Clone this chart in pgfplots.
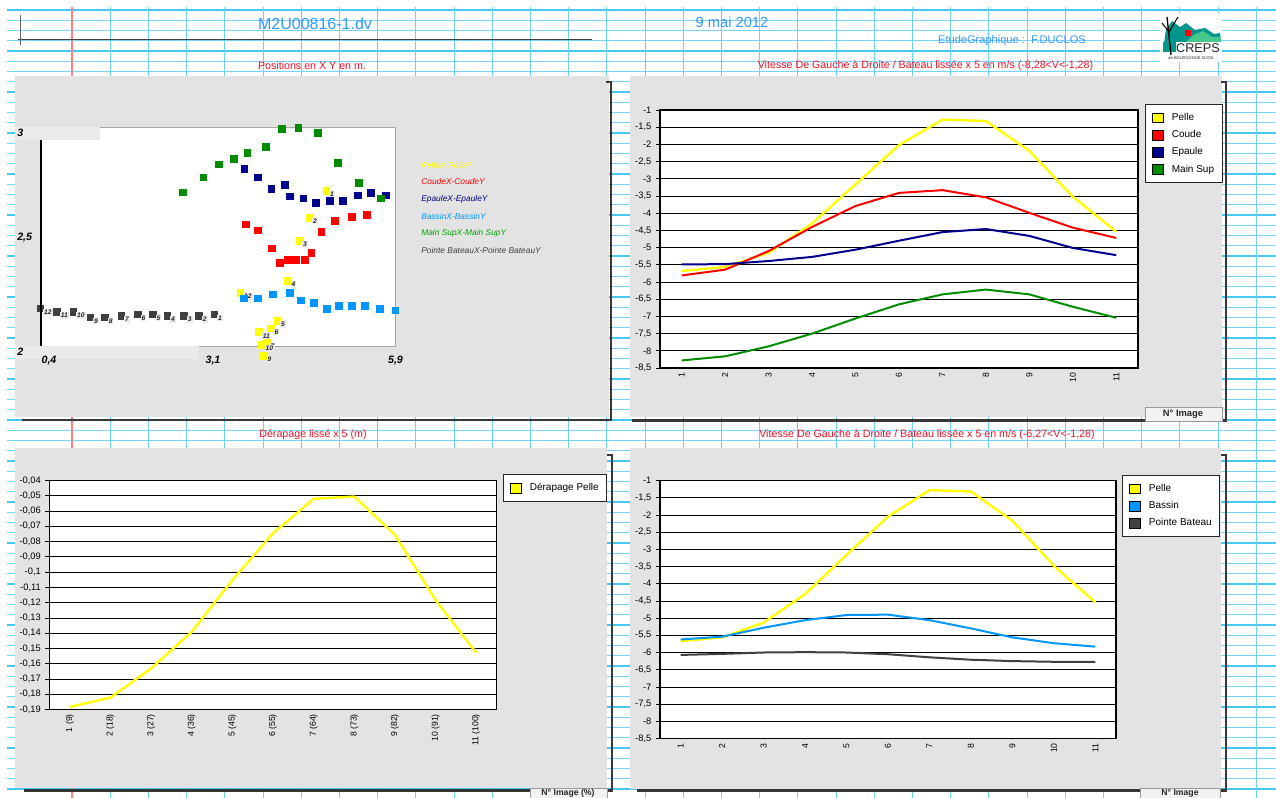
\documentclass[border=0pt]{standalone}
\usepackage{pgfplots}
\usepackage{pgfplotstable}
\pgfplotsset{compat=1.18}
\usepackage{fontspec}
\setmainfont{Liberation Sans}
\newcommand{\fs}[1]{\fontsize{#1}{#1}\selectfont}
\definecolor{gridc}{RGB}{70,200,240}
\definecolor{panel}{RGB}{227,227,227}
\definecolor{shadowc}{RGB}{55,55,55}
\definecolor{ttlblue}{RGB}{51,153,255}
\definecolor{ttlred}{RGB}{235,20,40}
\definecolor{cPelle}{RGB}{255,255,0}
\definecolor{cCoude}{RGB}{255,0,0}
\definecolor{cEpaule}{RGB}{0,0,140}
\definecolor{cBassin}{RGB}{0,150,255}
\definecolor{cMain}{RGB}{0,140,0}
\definecolor{cPointe}{RGB}{64,64,64}
\definecolor{lblbox}{RGB}{234,234,234}
\definecolor{logoteal}{RGB}{0,150,140}
\definecolor{logogreen}{RGB}{70,200,140}

% ---------- scatter data (Positions en X Y) ----------
\pgfplotstableread{
x y lab
4.833 2.709 1
4.569 2.587 2
4.414 2.481 3
4.232 2.298 4
4.072 2.116 5
3.968 2.081 6
3.906 2.017 7
3.835 2.005 8
3.862 1.955 9
3.829 2.008 10
3.787 2.064 11
3.497 2.244 12
}\tPelle
\pgfplotstableread{
x y
3.580 2.556
3.772 2.528
3.989 2.446
4.113 2.381
4.232 2.393
4.362 2.393
4.497 2.393
4.600 2.426
4.756 2.521
4.963 2.572
5.232 2.589
5.465 2.600
}\tCoude
\pgfplotstableread{
x y
3.559 2.810
3.772 2.770
3.979 2.717
4.191 2.735
4.269 2.683
4.476 2.674
4.668 2.653
4.890 2.664
5.087 2.664
5.325 2.689
5.527 2.700
5.755 2.689
}\tEpaule
\pgfplotstableread{
x y
3.549 2.218
3.772 2.218
4.005 2.236
4.269 2.244
4.440 2.209
4.636 2.198
4.844 2.170
5.025 2.183
5.232 2.183
5.429 2.183
5.667 2.170
5.905 2.163
}\tBassin
\pgfplotstableread{
x y
2.601 2.702
2.922 2.770
3.166 2.830
3.399 2.855
3.606 2.883
3.891 2.910
4.139 2.991
4.398 2.998
4.704 2.973
5.009 2.836
5.341 2.744
5.683 2.674
}\tMain
\pgfplotstableread{
x y lab
0.390 2.172 12
0.649 2.157 11
0.902 2.157 10
1.166 2.131 9
1.394 2.131 8
1.648 2.139 7
1.902 2.145 6
2.135 2.145 5
2.363 2.139 4
2.622 2.139 3
2.855 2.139 2
3.093 2.145 1
}\tPointe

% ---------- line charts ----------
\pgfplotstableread{
n pelle coude epaule main
1 -5.68 -5.81 -5.49 -8.28
2 -5.56 -5.64 -5.48 -8.16
3 -5.15 -5.10 -5.39 -7.87
4 -4.30 -4.40 -5.27 -7.50
5 -3.16 -3.79 -5.06 -7.06
6 -2.02 -3.41 -4.80 -6.65
7 -1.28 -3.33 -4.55 -6.36
8 -1.32 -3.54 -4.46 -6.22
9 -2.19 -3.99 -4.66 -6.36
10 -3.52 -4.42 -5.01 -6.72
11 -4.54 -4.72 -5.22 -7.04
}\tVitA
\pgfplotstableread{
n der
1 -0.1883
2 -0.1822
3 -0.1631
4 -0.1391
5 -0.1052
6 -0.0746
7 -0.0520
8 -0.0505
9 -0.0756
10 -0.1183
11 -0.1528
}\tDer
\pgfplotstableread{
n pelle bassin pointe
1 -5.67 -5.62 -6.07
2 -5.56 -5.54 -6.04
3 -5.13 -5.28 -6.00
4 -4.30 -5.06 -5.99
5 -3.16 -4.91 -6.00
6 -2.05 -4.90 -6.05
7 -1.28 -5.06 -6.14
8 -1.32 -5.30 -6.21
9 -2.17 -5.56 -6.25
10 -3.48 -5.73 -6.27
11 -4.54 -5.83 -6.27
}\tVitB

\pgfplotsset{
  vit/.style={
    scale only axis, anchor=south west,
    axis background/.style={fill=white},
    xmin=0.5, xmax=11.5,
    xtick={1,2,3,4,5,6,7,8,9,10,11},
    xtick style={draw=none},
    xticklabel style={rotate=90, anchor=east, font=\fs{6.5}},
    ytick pos=left, ytick align=outside,
    ytick style={black, line width=0.6pt},
    major tick length=3pt,
    ymajorgrids, grid style={black, line width=0.55pt},
    axis line style={black, line width=0.8pt},
    yticklabel style={font=\fs{7}},
    /pgf/number format/assume math mode=true,
    legend cell align=left,
    legend style={draw=black!85, line width=0.9pt, fill=white, font=\fs{7.5}, anchor=north west,
      inner xsep=5pt, inner ysep=5.5pt, row sep=4pt,
      nodes={inner sep=1pt, text height=5.4pt, text depth=1.5pt},
      /tikz/every odd column/.append style={column sep=5pt}},
    legend image code/.code={\filldraw[##1, draw=black, line width=0.5pt, solid] (0pt,-3.7pt) rectangle (8.2pt,3.7pt);},
    every axis plot/.append style={line width=1.5pt, mark=none},
  },
  lbl/.style={nodes near coords, point meta=explicit symbolic,
    nodes near coords style={font=\fs{5}\bfseries\itshape, text=black!85, fill=lblbox, inner sep=0.7pt, anchor=west, xshift=2pt, yshift=-2.8pt}},
}

\begin{document}
\begin{tikzpicture}
\path[use as bounding box] (0,0) rectangle (957pt,-598.5pt);
\clip (0,0) rectangle (957pt,-598.5pt);
\begin{scope}[x=0.75pt,y=-0.75pt]
  \fill[white] (0,0) rectangle (1276,798);
  % graph paper
  \foreach \k in {0,...,77} \draw[gridc!75, line width=0.5pt] (7,{10+10.25*\k}) -- (1276,{10+10.25*\k});
  \foreach \k in {0,4,...,76} \draw[gridc, line width=1.1pt] (7,{10+10.25*\k}) -- (1276,{10+10.25*\k});
  \foreach \k in {1,...,31} \draw[gridc!80, line width=0.6pt] ({72+38.2*\k},7) -- ({72+38.2*\k},798);
  \draw[red!50, line width=0.8pt] (72,7) -- (72,798);
  % header
  \draw[black!75, line width=0.6pt] (18,39.5) -- (592,39.5);
  \draw[black!60, line width=0.6pt] (20,15) -- (20,45);
  \node[font=\fs{12}, text=ttlblue] at (315,24) {M2U00816-1.dv};
  \node[font=\fs{11}, text=ttlblue] at (732,22.5) {9 mai 2012};
  \node[font=\fs{8.3}, text=ttlblue] at (1012,40.5) {EtudeGraphique :\ \ F.DUCLOS};
  % logo
  \fill[white] (1160,13) rectangle (1222,62);
  \fill[logoteal] (1163,50) -- (1166,30) -- (1172,21) -- (1180,27) -- (1186,23) -- (1195,30) -- (1205,28) -- (1214,34) -- (1220,33) -- (1221,42) -- (1163,42) -- cycle;
  \fill[logoteal] (1163,42) rectangle (1176,52);
  \fill[logogreen] (1186,42) -- (1193,35) -- (1203,31) -- (1212,37) -- (1220,37) -- (1221,42) -- cycle;
  \draw[black, line width=1pt] (1167,17) -- (1171,55);
  \draw[black, line width=0.8pt] (1169,32) -- (1178,17);
  \draw[black, line width=0.8pt] (1169,32) -- (1162,23);
  \fill[red] (1185,30) rectangle (1191,36);
  \node[font=\fs{9.5}, text=black!85] at (1198,48) {CREPS};
  \node[font=\fs{3}, text=black!85] at (1191,58.5) {de BOURGOGNE DIJON};
  % section titles
  \node[font=\fs{8}, text=ttlred] at (312,66) {Positions en X Y en m.};
  \node[font=\fs{8}, text=ttlred] at (925.5,66) {Vitesse De Gauche à Droite / Bateau lissée x 5 en m/s (-8,28<V<-1,28)};
  \node[font=\fs{8}, text=ttlred] at (313,435) {Dérapage lissé x 5 (m)};
  \node[font=\fs{8}, text=ttlred] at (927,435) {Vitesse De Gauche à Droite / Bateau lissée x 5 en m/s (-6,27<V<-1,28)};
  % panels
  \fill[panel] (15,76) rectangle (609,417);
  \fill[panel] (630,76) rectangle (1222,417);
  \fill[panel] (15,448) rectangle (607,788);
  \fill[panel] (630,448) rectangle (1221,789);
  % shadows
  \draw[shadowc, line width=2.2pt] (22,420) -- (611,420) -- (611,82) -- (606,82);
  \draw[shadowc, line width=2.2pt] (632,420.5) -- (1226,420.5) -- (1226,82) -- (1221,82);
  \draw[shadowc, line width=2.2pt] (24,790.5) -- (612,790.5) -- (612,455) -- (607,455);
  \draw[shadowc, line width=2.2pt] (637,790.5) -- (1226,790.5) -- (1226,455) -- (1221,455);
\end{scope}

% ---------- Positions en X Y ----------
\begin{axis}[scale only axis, anchor=south west, at={(30.75pt,-259.5pt)}, width=265.5pt, height=164.25pt,
  xmin=0.4, xmax=5.9, ymin=2, ymax=3, clip=false,
  axis background/.style={fill=white},
  axis line style={draw=black!35, line width=0.5pt},
  xtick=\empty, ytick=\empty]
\addplot[only marks, mark=square*, mark size=2.5pt, color=cPelle, lbl] table[x=x,y=y,meta=lab]{\tPelle};
\addplot[only marks, mark=square*, mark size=2.5pt, color=cCoude] table[x=x,y=y]{\tCoude};
\addplot[only marks, mark=square*, mark size=2.5pt, color=cEpaule] table[x=x,y=y]{\tEpaule};
\addplot[only marks, mark=square*, mark size=2.5pt, color=cBassin] table[x=x,y=y]{\tBassin};
\addplot[only marks, mark=square*, mark size=2.5pt, color=cMain] table[x=x,y=y]{\tMain};
\addplot[only marks, mark=square*, mark size=2.5pt, color=cPointe, lbl] table[x=x,y=y,meta=lab]{\tPointe};
\end{axis}

% ---------- Vitesse (top right) ----------
\begin{axis}[vit, at={(495pt,-276pt)}, width=358.5pt, height=193.5pt,
  ymin=-8.5, ymax=-1,
  ytick={-8.5,-8,-7.5,-7,-6.5,-6,-5.5,-5,-4.5,-4,-3.5,-3,-2.5,-2,-1.5,-1},
  yticklabels={{-8,5},-8,{-7,5},-7,{-6,5},-6,{-5,5},-5,{-4,5},-4,{-3,5},-3,{-2,5},-2,{-1,5},-1},
  legend style={at={(1.0146,1.0233)}}]
\addplot[color=cPelle, line width=1.8pt] table[x=n,y=pelle]{\tVitA};
\addlegendentry{Pelle}
\addplot[color=cCoude] table[x=n,y=coude]{\tVitA};
\addlegendentry{Coude}
\addplot[color=cEpaule] table[x=n,y=epaule]{\tVitA};
\addlegendentry{Epaule}
\addplot[color=cMain] table[x=n,y=main]{\tVitA};
\addlegendentry{Main Sup}
\pgfplotsinvokeforeach{1.5,2.5,3.5,4.5,5.5,6.5,7.5,8.5,9.5,10.5}{\draw[black, line width=0.6pt] (axis cs:#1,-1) ++(0,2.5pt) -- ++(0,-5pt);}
\end{axis}

% ---------- Derapage (bottom left) ----------
\begin{axis}[vit, at={(37.125pt,-532.125pt)}, width=335.25pt, height=171.75pt,
  ymin=-0.19, ymax=-0.04,
  ytick={-0.19,-0.18,-0.17,-0.16,-0.15,-0.14,-0.13,-0.12,-0.11,-0.1,-0.09,-0.08,-0.07,-0.06,-0.05,-0.04},
  yticklabels={{-0,19},{-0,18},{-0,17},{-0,16},{-0,15},{-0,14},{-0,13},{-0,12},{-0,11},{-0,1},{-0,09},{-0,08},{-0,07},{-0,06},{-0,05},{-0,04}},
  xticklabels={1 (9),2 (18),3 (27),4 (36),5 (45),6 (55),7 (64),8 (73),9 (82),10 (91),11 (100)},
  legend style={at={(1.0145,1.028)}}]
\addplot[color=cPelle, line width=1.8pt] table[x=n,y=der]{\tDer};
\addlegendentry{Dérapage Pelle}
\pgfplotsinvokeforeach{1.5,2.5,3.5,4.5,5.5,6.5,7.5,8.5,9.5,10.5}{\draw[black, line width=0.6pt] (axis cs:#1,-0.04) ++(0,2.5pt) -- ++(0,-5pt);}
\end{axis}

% ---------- Vitesse (bottom right) ----------
\begin{axis}[vit, at={(495pt,-553.875pt)}, width=342pt, height=193.5pt,
  ymin=-8.5, ymax=-1,
  ytick={-8.5,-8,-7.5,-7,-6.5,-6,-5.5,-5,-4.5,-4,-3.5,-3,-2.5,-2,-1.5,-1},
  yticklabels={{-8,5},-8,{-7,5},-7,{-6,5},-6,{-5,5},-5,{-4,5},-4,{-3,5},-3,{-2,5},-2,{-1,5},-1},
  legend style={at={(1.0132,1.0213)}}]
\addplot[color=cPelle, line width=1.8pt] table[x=n,y=pelle]{\tVitB};
\addlegendentry{Pelle}
\addplot[color=cBassin] table[x=n,y=bassin]{\tVitB};
\addlegendentry{Bassin}
\addplot[color=cPointe] table[x=n,y=pointe]{\tVitB};
\addlegendentry{Pointe Bateau}
\pgfplotsinvokeforeach{1.5,2.5,3.5,4.5,5.5,6.5,7.5,8.5,9.5,10.5}{\draw[black, line width=0.6pt] (axis cs:#1,-1) ++(0,2.5pt) -- ++(0,-5pt);}
\end{axis}

\begin{scope}[x=0.75pt,y=-0.75pt]
  % scatter decorations
  \fill[lblbox] (15,127) rectangle (100,140);
  \fill[lblbox] (15,346) rectangle (199,359);
  \draw[black, line width=0.8pt] (41,140) -- (41,346);
  \node[font=\fs{8}\bfseries\itshape, anchor=west, inner sep=0] at (17,133) {3};
  \node[font=\fs{8}\bfseries\itshape, anchor=west, inner sep=0] at (17,238) {2,5};
  \node[font=\fs{8}\bfseries\itshape, anchor=west, inner sep=0] at (17,352) {2};
  \node[font=\fs{8}\bfseries\itshape, inner sep=0] at (49,361) {0,4};
  \node[font=\fs{8}\bfseries\itshape, inner sep=0] at (213,361) {3,1};
  \node[font=\fs{8}\bfseries\itshape, inner sep=0] at (395.5,361) {5,9};
  \node[font=\fs{6.3}\itshape, text=cPelle, anchor=west, inner sep=0] at (421,165) {PelleX-PelleY};
  \node[font=\fs{6.3}\itshape, text=cCoude, anchor=west, inner sep=0] at (421,182) {CoudeX-CoudeY};
  \node[font=\fs{6.3}\itshape, text=cEpaule, anchor=west, inner sep=0] at (421,199) {EpauleX-EpauleY};
  \node[font=\fs{6.3}\itshape, text=cBassin, anchor=west, inner sep=0] at (421,216) {BassinX-BassinY};
  \node[font=\fs{6.3}\itshape, text=cMain!80!green, anchor=west, inner sep=0] at (421,233) {Main SupX-Main SupY};
  \node[font=\fs{6.3}\itshape, text=cPointe, anchor=west, inner sep=0] at (421,250) {Pointe BateauX-Pointe BateauY};
  % axis title boxes
  \draw[fill=white!95!black, draw=black!40, line width=0.5pt] (1145,407) rectangle (1222,421);
  \node[font=\fs{7}\bfseries, text=black!85] at (1183,414.5) {N° Image};
  \draw[fill=white!95!black, draw=black!40, line width=0.5pt] (530,788.5) rectangle (607,798);
  \node[font=\fs{6.5}\bfseries, text=black!85] at (568,793.5) {N° Image (\%)};
  \draw[fill=white!95!black, draw=black!40, line width=0.5pt] (1140,788.5) rectangle (1220,798);
  \node[font=\fs{6.5}\bfseries, text=black!85] at (1180,793.5) {N° Image};
\end{scope}
\end{tikzpicture}
\end{document}
